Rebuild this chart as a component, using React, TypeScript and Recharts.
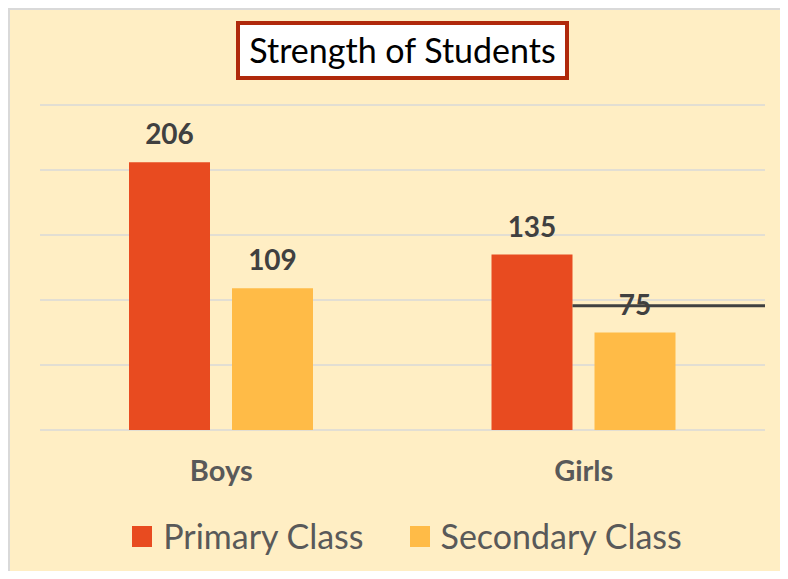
import { BarChart, Bar, XAxis, YAxis, CartesianGrid, Legend, LabelList, ReferenceLine } from "recharts";

const categories = ["Boys", "Girls"];
const primaryClass = [206, 135];
const secondaryClass = [109, 75];
const yTicks = [0, 50, 100, 150, 200, 250];
// stray horizontal rule that crosses the "75" label in the original picture
const strayLineValue = 95.5;

const data = categories.map((name, i) => ({
  name,
  primary: primaryClass[i],
  secondary: secondaryClass[i]
}));

const FONT = "Lato, 'Noto Sans', sans-serif";

function CategoryTick({ x, y, payload }: any) {
  return (
    <text
      x={x}
      y={y + 51}
      textAnchor="middle"
      fill="#595959"
      fontSize={29}
      fontWeight={700}
      fontFamily={FONT}
    >
      {payload.value}
    </text>
  );
}

function LegendContent({ payload }: any) {
  return (
    <div style={{ display: "flex", justifyContent: "center", alignItems: "center", paddingLeft: 16 }}>
      {(payload || []).map((item: any, i: number) => (
        <div key={item.value} style={{ display: "flex", alignItems: "center", marginLeft: i === 0 ? 0 : 46 }}>
          <span style={{ width: 20, height: 21, background: item.color, display: "inline-block", marginRight: 11 }} />
          <span style={{ color: "#595959", fontSize: 34, fontFamily: FONT, lineHeight: "40px" }}>{item.value}</span>
        </div>
      ))}
    </div>
  );
}

function StrayLine({ x1, x2, y1 }: any) {
  const start = x1 + (x2 - x1) * 0.7345;
  return <line x1={start} x2={x2} y1={y1} y2={y1} stroke="#404040" strokeWidth={3} />;
}

export default function App() {
  return (
    <div
      style={{
        position: "relative",
        width: 780,
        height: 571,
        marginBottom: -8,
        background: "#FFEEC4",
        borderLeft: "2px solid #D9D9D9",
        borderTop: "2px solid #D9D9D9",
        boxSizing: "border-box",
        overflow: "hidden",
        fontFamily: FONT
      }}
    >
      <div
        style={{
          position: "absolute",
          left: 226,
          top: 11,
          width: 333,
          height: 59,
          boxSizing: "border-box",
          border: "4px solid #B0290B",
          background: "#FFFFFF",
          color: "#000000",
          fontSize: 34,
          lineHeight: "50px",
          textAlign: "center",
          whiteSpace: "nowrap",
          zIndex: 2
        }}
      >
        Strength of Students
      </div>
      <BarChart
        width={778}
        height={569}
        data={data}
        margin={{ top: 95, right: 23, left: 30, bottom: 99 }}
        barSize={81}
        barGap={22}
      >
        <CartesianGrid vertical={false} stroke="#D9D9D9" strokeWidth={1.5} />
        <XAxis
          dataKey="name"
          height={50}
          axisLine={false}
          tickLine={false}
          tickSize={0}
          tickMargin={0}
          tick={<CategoryTick />}
        />
        <YAxis hide domain={[0, 250]} ticks={yTicks} />
        <Legend
          layout="horizontal"
          verticalAlign="middle"
          align="center"
          content={<LegendContent />}
          wrapperStyle={{ position: "absolute", top: 506, left: 0, width: 778 }}
        />
        <Bar dataKey="primary" name="Primary Class" fill="#E84B20" isAnimationActive={false}>
          <LabelList
            dataKey="primary"
            position="top"
            offset={18}
            fill="#404040"
            fontSize={28}
            fontWeight={700}
            fontFamily={FONT}
          />
        </Bar>
        <Bar dataKey="secondary" name="Secondary Class" fill="#FFBB47" isAnimationActive={false}>
          <LabelList
            dataKey="secondary"
            position="top"
            offset={18}
            fill="#404040"
            fontSize={28}
            fontWeight={700}
            fontFamily={FONT}
          />
        </Bar>
        <ReferenceLine y={strayLineValue} ifOverflow="visible" shape={<StrayLine />} />
      </BarChart>
    </div>
  );
}
